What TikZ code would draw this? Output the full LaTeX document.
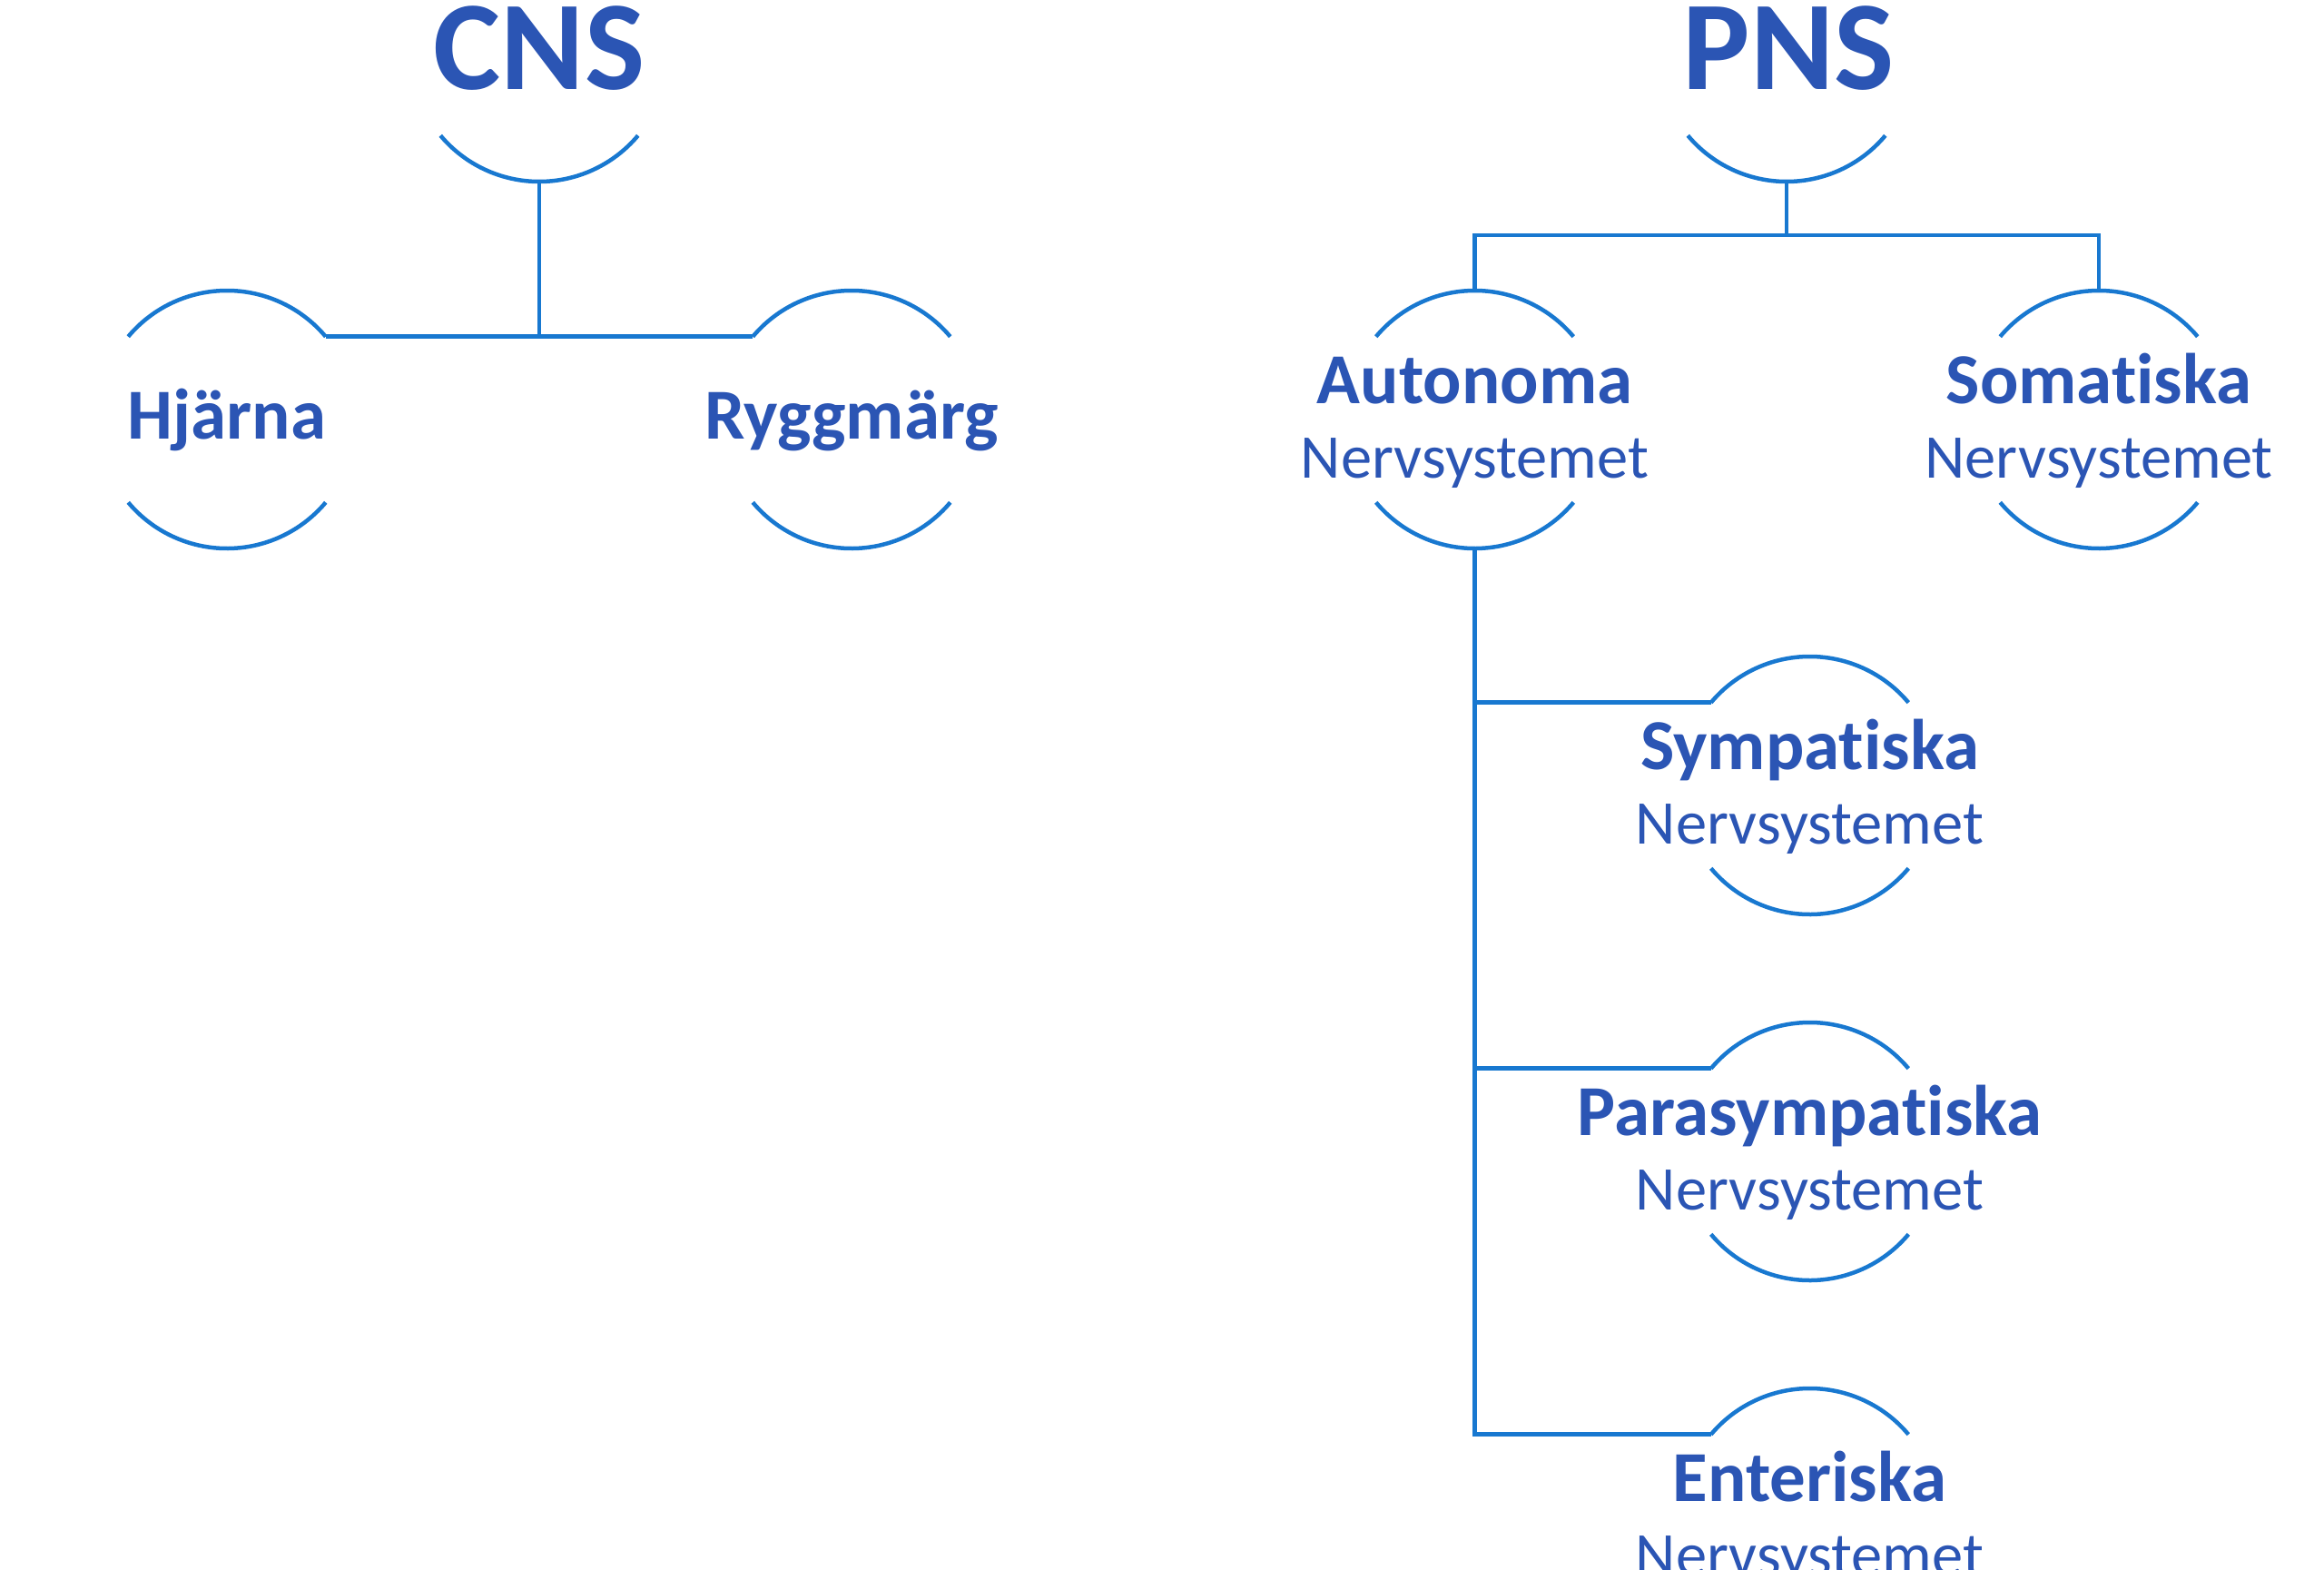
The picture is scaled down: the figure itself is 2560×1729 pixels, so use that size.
\documentclass[tikz,border=0pt]{standalone}
\usepackage{fontspec}
\setmainfont[Ligatures=NoCommon]{Carlito}
\definecolor{txt}{RGB}{43,85,180}
\definecolor{ln}{RGB}{24,120,208}
\begin{document}
\begin{tikzpicture}[x=1pt,y=1pt,
  circ/.style={circle,minimum size=284pt,inner sep=0pt,outer sep=0pt,draw=none},
  arcline/.style={draw=ln,line width=4.5pt},
  conn/.style={draw=ln,line width=4.5pt},
  big/.style={text=txt,font=\fontsize{140}{168}\selectfont\bfseries,anchor=base,inner sep=0pt},
  head/.style={text=txt,font=\fontsize{79}{95}\selectfont\bfseries,anchor=base,inner sep=0pt},
  sub/.style={text=txt,font=\fontsize{68.5}{82}\selectfont,anchor=base,inner sep=0pt}]
\useasboundingbox (0,0) rectangle (2560,-1729);
\clip (0,0) rectangle (2560,-1729);

% top level
\node[circ] (cns) at (594,-58) {};
\node[big] (cnst) at (594,-98) {CNS};
\node[circ] (pns) at (1968,-58) {};
\node[big] (pnst) at (1970,-98) {PNS};

% second level
\node[circ] (hj) at (250,-462) {};
\node[head] (hjt) at (250,-483) {Hjärna};
\node[circ] (ry) at (938,-462) {};
\node[head] (ryt) at (938,-483) {Ryggmärg};
\node[circ] (au) at (1624.5,-462) {};
\node[head] (aut) at (1624.5,-444) {Autonoma};
\node[sub] (aus) at (1624.5,-526) {Nervsystemet};
\node[circ] (so) at (2312,-462) {};
\node[head] (sot) at (2312,-444) {Somatiska};
\node[sub] (sos) at (2312,-526) {Nervsystemet};

% third level
\node[circ] (sy) at (1993.5,-865) {};
\node[head] (syt) at (1993.5,-847) {Sympatiska};
\node[sub] (sys) at (1993.5,-929) {Nervsystemet};
\node[circ] (pa) at (1993.5,-1268) {};
\node[head] (pat) at (1993.5,-1250) {Parasympatiska};
\node[sub] (pas) at (1993.5,-1332) {Nervsystemet};
\node[circ] (en) at (1993.5,-1671) {};
\node[head] (ent) at (1993.5,-1653) {Enteriska};
\node[sub] (ens) at (1993.5,-1735) {Nervsystemet};

% arcs
\draw[arcline] (cns.220) arc[start angle=220,end angle=320,radius=142];
\draw[arcline] (pns.220) arc[start angle=220,end angle=320,radius=142];
\foreach \n in {hj,ry,au,so,sy,pa,en}{
  \draw[arcline] (\n.40) arc[start angle=40,end angle=140,radius=142];
  \draw[arcline] (\n.220) arc[start angle=220,end angle=320,radius=142];
}

% connectors
\draw[conn] (cns.south) -- (cns.south |- hj.40);
\draw[conn] (hj.40) -- (ry.140);
\coordinate (pbar) at (1968,-259);
\draw[conn] (pns.south) -- (pbar);
\draw[conn] (au.north) |- (pbar) -| (so.north);
\draw[conn] (au.south) |- (en.140);
\draw[conn] (au.south |- sy.140) -- (sy.140);
\draw[conn] (au.south |- pa.140) -- (pa.140);
\end{tikzpicture}
\end{document}
